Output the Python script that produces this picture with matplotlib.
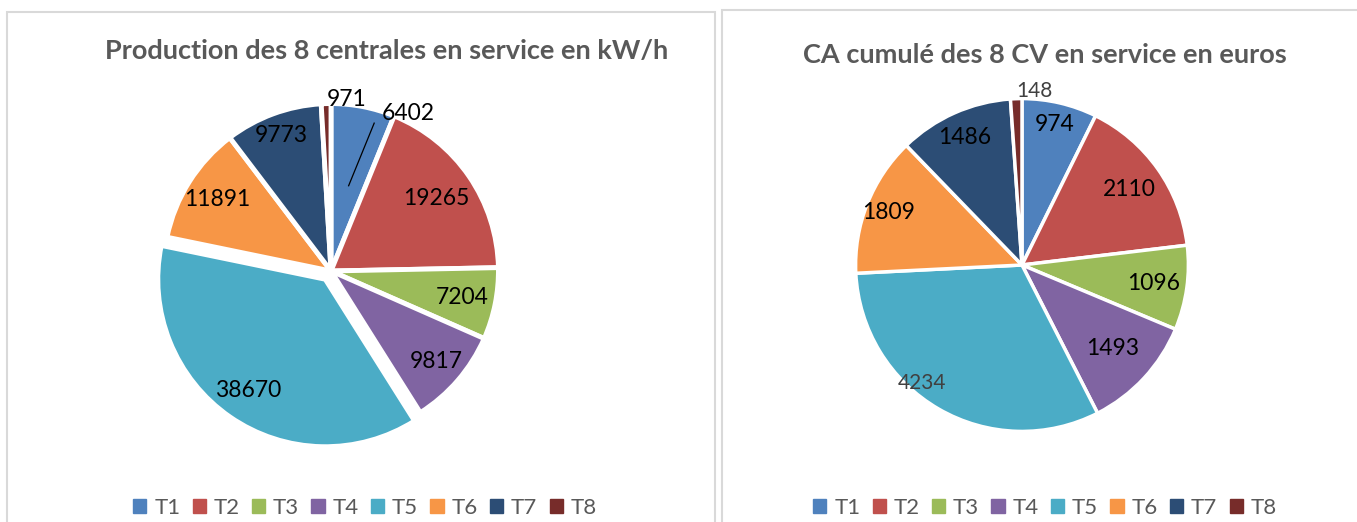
import numpy as np
import matplotlib
matplotlib.use('Agg')
import matplotlib.pyplot as plt
from matplotlib.patches import Rectangle

plt.rcParams['font.family'] = ['Lato', 'DejaVu Sans']

# data
categories = ['T1', 'T2', 'T3', 'T4', 'T5', 'T6', 'T7', 'T8']
production = [6402, 19265, 7204, 9817, 38670, 11891, 9773, 971]
ca_cumule = [974, 2110, 1096, 1493, 4234, 1809, 1486, 148]
colors = ['#4F81BD', '#C0504D', '#9BBB59', '#8064A2',
          '#4BACC6', '#F79646', '#2C4D75', '#772C2A']

W, H = 1357, 522
fig = plt.figure(figsize=(W / 100, H / 100), dpi=100)

# panel frames
for x0, y0, w, h in [(7, -5, 708, 515), (722, -5, 650, 517)]:
    fig.patches.append(Rectangle((x0 / W, y0 / H), w / W, h / H,
                                 transform=fig.transFigure, fill=False,
                                 edgecolor='#d9d9d9', lw=1.5))


def make_ax(cx, cy, r, pad=1.3):
    # cx, cy in pixels from top-left; r = pie radius in px
    half = r * pad
    ax = fig.add_axes([(cx - half) / W, (H - cy - half) / H, 2 * half / W, 2 * half / H])
    ax.set_xlim(-pad, pad)
    ax.set_ylim(-pad, pad)
    ax.set_aspect('equal')
    ax.axis('off')
    return ax


def polar(r, deg):
    a = np.deg2rad(deg)
    return r * np.cos(a), r * np.sin(a)


def draw_pie(ax, values, explode, lw, label_r, label_da, label_colors, label_sizes):
    wedges, _ = ax.pie(values, colors=colors, startangle=90, counterclock=False,
                       explode=explode, radius=1.0,
                       wedgeprops=dict(edgecolor='white', linewidth=lw))
    for i, w in enumerate(wedges):
        mid = (w.theta1 + w.theta2) / 2
        x, y = polar(label_r[i] + explode[i], mid + label_da[i])
        ax.text(x, y, str(values[i]), ha='center', va='center',
                fontsize=label_sizes[i], color=label_colors[i])
    return wedges


# left chart
axl = make_ax(331, 271, 161)
wl = draw_pie(axl, production, [0, 0, 0, 0, 0.06, 0, 0, 0], 3.5,
              [1.05, 0.76, 0.8, 0.83, 0.81, 0.8, 0.86, 1.03],
              [-15, 0, 0, 0, 0, 0, 0, -7],
              ['black'] * 8, [16.5] * 8)
# leader line for T1 label
mid = (wl[0].theta1 + wl[0].theta2) / 2
p0 = polar(0.52, mid - 0.6)
p1 = polar(0.92, mid - 5.2)
axl.plot([p0[0], p1[0]], [p0[1], p1[1]], color='black', lw=0.9)
fig.text(387 / W, 1 - 51 / H, 'Production des 8 centrales en service en kW/h',
         ha='center', va='center', fontsize=19.5, fontweight='bold', color='#595959')

# right chart
axr = make_ax(1022, 265, 160)
draw_pie(axr, ca_cumule, [0] * 8, 2.5,
         [0.87, 0.79, 0.8, 0.74, 0.93, 0.86, 0.84, 1.05],
         [0, 0, 0, 0, -10, 0, 0, -6],
         ['black'] * 4 + ['#404040', 'black', 'black', '#404040'],
         [16.5, 16.5, 16.5, 16.5, 15, 16.5, 16.5, 15])
fig.text(1045 / W, 1 - 55 / H, 'CA cumulé des 8 CV en service en euros',
         ha='center', va='center', fontsize=19.5, fontweight='bold', color='#595959')

# legends
handles = [Rectangle((0, 0), 1, 1, color=c) for c in colors]
for cx in (365, 1045):
    fig.legend(handles, categories, loc='center', bbox_to_anchor=(cx / W, 1 - 508 / H),
               ncol=8, frameon=False, fontsize=16, handlelength=0.6, handleheight=0.6,
               handletextpad=0.35, columnspacing=0.55, labelcolor='#595959',
               borderpad=0.1)

fig.savefig('out.png', dpi=100)
